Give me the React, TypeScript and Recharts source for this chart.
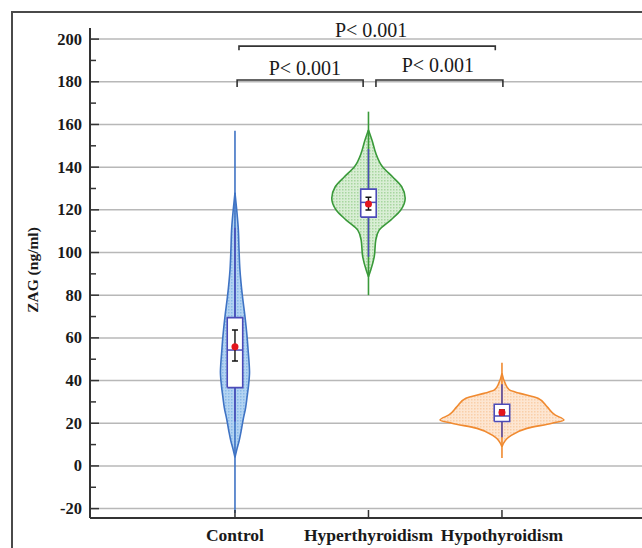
import React from 'react';
import { ComposedChart, Scatter, XAxis, YAxis, CartesianGrid } from 'recharts';

// ---------- data ----------
const categories = ['Control', 'Hyperthyroidism', 'Hypothyroidism'];
const categoryPos = [1, 2, 3];

const yTicks = [-20, -10, 0, 10, 20, 30, 40, 50, 60, 70, 80, 90, 100, 110, 120, 130, 140, 150, 160, 170, 180, 190, 200];
const gridValues = [-20, 0, 20, 40, 60, 80, 100, 120, 140, 160, 180, 200];

// violin density profiles (value levels, half-width in category units)
const controlLevels = [4, 8, 12, 16, 22, 27, 32, 38, 44, 48, 53, 61, 70, 80, 92, 102, 111, 120, 128];
const controlWidths = [0, 0.015, 0.032, 0.045, 0.062, 0.079, 0.09, 0.102, 0.109, 0.106, 0.1, 0.09, 0.075, 0.055, 0.037, 0.03, 0.025, 0.013, 0];

const hyperLevels = [88.7, 91.8, 98, 105.9, 110.5, 115.2, 119.9, 125.4, 130.8, 135.5, 140.2, 146.5, 151.9, 157.4];
const hyperWidths = [0, 0.017, 0.043, 0.055, 0.08, 0.167, 0.242, 0.275, 0.249, 0.18, 0.105, 0.055, 0.03, 0];

const hypoLevels = [9, 13.7, 17.6, 20, 21.5, 23.9, 27.8, 31.7, 34, 35.6, 39, 43.4];
const hypoWidths = [0, 0.056, 0.187, 0.375, 0.464, 0.397, 0.337, 0.27, 0.135, 0.056, 0.022, 0];

const rangeLow = [-22, 80, 3.7];
const rangeHigh = [157, 166, 48.4];

// box plot statistics
const boxQ1 = [36.7, 116.6, 20.8];
const boxMedian = [54.3, 123.5, 23.4];
const boxQ3 = [69.5, 129.7, 28.9];
const whiskerLow = [20.8, 98, 13.4];
const whiskerHigh = [111.6, 148.5, 38.3];
const meanValues = [55.9, 122.7, 25];
const ciLow = [49.2, 119.9, 23.9];
const ciHigh = [63.7, 125.9, 26.2];

// significance brackets
const bracketFrom = [1.03, 1.016, 2.056];
const bracketTo = [2.95, 1.96, 3.007];
const bracketLevel = [196.7, 180.8, 180.8];
const bracketEnd = [194.8, 177.5, 177.5];
const bracketLabel = ['P< 0.001', 'P< 0.001', 'P< 0.001'];
const labelX = [2.02, 1.524, 2.52];
const labelY = [204.2, 186.4, 187.8];

// ---------- styles ----------
const FONT = "'Liberation Serif', 'Times New Roman', Times, serif";
const violinStyles = [
  { stroke: '#3f73c4', fill: 'url(#patBlue)' },
  { stroke: '#3a9a3a', fill: 'url(#patGreen)' },
  { stroke: '#f08a30', fill: 'url(#patOrange)' },
];
const violinLevels = [controlLevels, hyperLevels, hypoLevels];
const violinWidths = [controlWidths, hyperWidths, hypoWidths];
const BOX_COLOR = '#4b4bb8';
const BOX_HALF = 0.058;
const CAP_HALF = 0.0225;

const Empty = () => <g />;

const YTick = (props: any) => {
  const { x, y, payload } = props;
  const v = payload.value;
  const major = v % 20 === 0;
  const ax = x + 8;
  return (
    <g>
      <line x1={ax} x2={ax + (major ? 9 : 6)} y1={y} y2={y} stroke="#333" strokeWidth={1.5} />
      {major && (
        <text x={x} y={y} dy={5.5} textAnchor="end" fontFamily={FONT} fontWeight="bold" fontSize={16.5} fill="#1a1a1a">
          {v}
        </text>
      )}
    </g>
  );
};

const XTick = (props: any) => {
  const { x, y, payload } = props;
  const idx = categoryPos.indexOf(payload.value);
  return (
    <g>
      <line x1={x} x2={x} y1={y} y2={y - 8} stroke="#333" strokeWidth={1.5} />
      <text x={x} y={y + 23} textAnchor="middle" fontFamily={FONT} fontWeight="bold" fontSize={17.5} fill="#1a1a1a">
        {idx >= 0 ? categories[idx] : ''}
      </text>
    </g>
  );
};

const YLabel = (props: any) => {
  const vb = props.viewBox || { x: 0, y: 28, width: 90, height: 490 };
  const cx = vb.x + 32;
  const cy = vb.y + vb.height / 2 - 3;
  return (
    <text x={cx} y={cy} transform={`rotate(-90 ${cx} ${cy})`} textAnchor="middle" dominantBaseline="central"
      fontFamily={FONT} fontWeight="bold" fontSize={15.5} fill="#1a1a1a">
      ZAG (ng/ml)
    </text>
  );
};

const TextShape = (p: any) => (
  <text x={p.cx} y={p.cy} textAnchor="middle" dominantBaseline="central" fontFamily={FONT} fontSize={20} fill="#1a1a1a">
    {p.payload.label}
  </text>
);

const MeanDot = (p: any) => <circle cx={p.cx} cy={p.cy} r={3.5} fill="#e3161e" />;

export default function App() {
  const series: React.ReactNode[] = [];

  categoryPos.forEach((c, k) => {
    const lv = violinLevels[k];
    const wd = violinWidths[k];
    const st = violinStyles[k];
    const left = lv.map((v, i) => ({ x: c - wd[i], y: v }));
    const right = lv.map((v, i) => ({ x: c + wd[i], y: v }));
    series.push(
      <Scatter key={`vl${k}`} data={left} shape={Empty} isAnimationActive={false}
        line={{ stroke: st.stroke, strokeWidth: 1.6, fill: st.fill }} lineType="joint" lineJointType="monotoneY" />,
      <Scatter key={`vr${k}`} data={right} shape={Empty} isAnimationActive={false}
        line={{ stroke: st.stroke, strokeWidth: 1.6, fill: st.fill }} lineType="joint" lineJointType="monotoneY" />,
      <Scatter key={`rg${k}`} data={[{ x: c, y: rangeLow[k] }, { x: c, y: rangeHigh[k] }]} shape={Empty} isAnimationActive={false}
        line={{ stroke: st.stroke, strokeWidth: 1.6 }} lineType="joint" lineJointType="linear" />,
      <Scatter key={`wh${k}`} data={[{ x: c, y: whiskerLow[k] }, { x: c, y: whiskerHigh[k] }]} shape={Empty} isAnimationActive={false}
        line={{ stroke: BOX_COLOR, strokeWidth: 1.5 }} lineType="joint" lineJointType="linear" />,
      <Scatter key={`bx${k}`}
        data={[
          { x: c - BOX_HALF, y: boxQ1[k] },
          { x: c - BOX_HALF, y: boxQ3[k] },
          { x: c + BOX_HALF, y: boxQ3[k] },
          { x: c + BOX_HALF, y: boxQ1[k] },
          { x: c - BOX_HALF, y: boxQ1[k] },
        ]}
        shape={Empty} isAnimationActive={false}
        line={{ stroke: BOX_COLOR, strokeWidth: 1.6, fill: '#ffffff', strokeLinejoin: 'miter' }} lineType="joint" lineJointType="linear" />,
      <Scatter key={`md${k}`} data={[{ x: c - BOX_HALF, y: boxMedian[k] }, { x: c + BOX_HALF, y: boxMedian[k] }]} shape={Empty} isAnimationActive={false}
        line={{ stroke: BOX_COLOR, strokeWidth: 1.5 }} lineType="joint" lineJointType="linear" />,
      <Scatter key={`ci${k}`}
        data={[
          { x: c - CAP_HALF, y: ciLow[k] },
          { x: c + CAP_HALF, y: ciLow[k] },
          { x: c, y: ciLow[k] },
          { x: c, y: ciHigh[k] },
          { x: c - CAP_HALF, y: ciHigh[k] },
          { x: c + CAP_HALF, y: ciHigh[k] },
        ]}
        shape={Empty} isAnimationActive={false}
        line={{ stroke: '#111', strokeWidth: 1.4 }} lineType="joint" lineJointType="linear" />,
      <Scatter key={`mn${k}`} data={[{ x: c, y: meanValues[k] }]} shape={MeanDot} isAnimationActive={false} />
    );
  });

  bracketFrom.forEach((x1, k) => {
    const x2 = bracketTo[k];
    series.push(
      <Scatter key={`br${k}`}
        data={[
          { x: x1, y: bracketEnd[k] },
          { x: x1, y: bracketLevel[k] },
          { x: x2, y: bracketLevel[k] },
          { x: x2, y: bracketEnd[k] },
        ]}
        shape={Empty} isAnimationActive={false}
        line={{ stroke: '#333', strokeWidth: 1.6 }} lineType="joint" lineJointType="linear" />,
      <Scatter key={`bl${k}`} data={[{ x: labelX[k], y: labelY[k], label: bracketLabel[k] }]} shape={TextShape} isAnimationActive={false} />
    );
  });

  return (
    <div style={{ position: 'absolute', left: 0, top: 0, width: 642, height: 548, overflow: 'hidden', background: '#fff' }}>
      <div style={{ position: 'absolute', left: 11, top: 11, width: 700, height: 600, border: '2px solid #4a4a4a', boxSizing: 'border-box' }} />
      <div style={{ position: 'absolute', left: 0, top: 0 }}>
        <ComposedChart width={642} height={548} margin={{ top: 28, right: 0, bottom: 0, left: 0 }}>
          <defs>
            <pattern id="patBlue" width="3" height="3" patternUnits="userSpaceOnUse">
              <rect width="3" height="3" fill="#b3d4f2" />
              <rect width="1.5" height="1.5" fill="#8ab9e8" />
            </pattern>
            <pattern id="patGreen" width="3" height="3" patternUnits="userSpaceOnUse">
              <rect width="3" height="3" fill="#d9eed5" />
              <rect width="1.5" height="1.5" fill="#a8d6a0" />
            </pattern>
            <pattern id="patOrange" width="3" height="3" patternUnits="userSpaceOnUse">
              <rect width="3" height="3" fill="#fde6d2" />
              <rect width="1.5" height="1.5" fill="#f9cfa9" />
            </pattern>
          </defs>
          <CartesianGrid vertical={false} horizontalValues={gridValues} stroke="#b8b8b8" strokeWidth={1.5} />
          <XAxis type="number" dataKey="x" domain={[-0.086, 4.049]} ticks={categoryPos} interval={0}
            height={30} tickSize={0} tickMargin={0} tickLine={false}
            axisLine={{ stroke: '#333', strokeWidth: 2 }} tick={<XTick />} />
          <YAxis type="number" dataKey="y" domain={[-24.4, 205.2]} ticks={yTicks} interval={0}
            width={90} tickSize={0} tickMargin={8} tickLine={false}
            axisLine={{ stroke: '#333', strokeWidth: 2 }} tick={<YTick />} label={<YLabel />} />
          {series}
        </ComposedChart>
      </div>
    </div>
  );
}
